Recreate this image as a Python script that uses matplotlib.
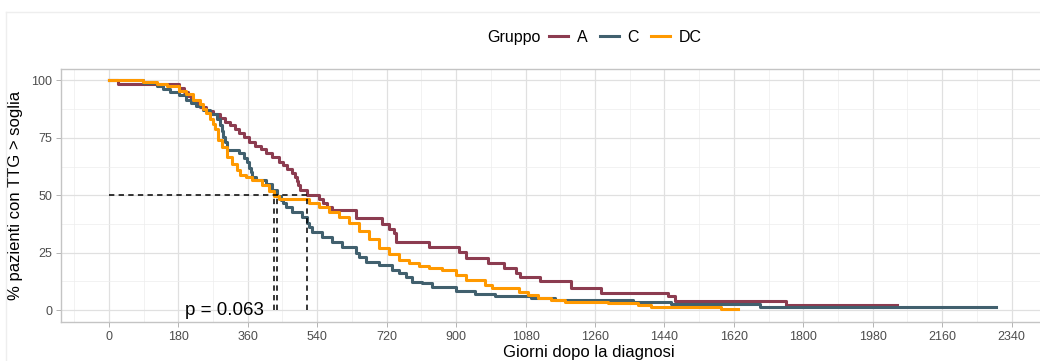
import matplotlib.pyplot as plt
from matplotlib.lines import Line2D

# curve di Kaplan-Meier (giorni, % pazienti con TTG > soglia)
gruppi = ["A", "C", "DC"]
colori = ["#8C3C50", "#41606E", "#FF9900"]

giorni_A = [0, 23, 183, 194, 204, 214, 225, 235, 253, 269, 287, 302, 315, 328, 338,
            351, 364, 380, 395, 408, 424, 442, 452, 462, 475, 483, 488, 491, 496, 514,
            545, 555, 566, 579, 641, 708, 726, 738, 744, 829, 907, 925, 984, 1023, 1056,
            1067, 1118, 1198, 1276, 1449, 1467, 1754, 2043]
surv_A = [100, 98.3, 96.6, 95.0, 93.3, 91.6, 90.0, 88.5, 86.8, 85.3, 83.7, 82.0, 80.4, 78.7, 77.0,
          75.3, 73.3, 71.6, 70.0, 68.4, 66.7, 64.7, 63.0, 61.3, 59.6, 57.8, 56.0, 54.3, 52.4, 50.0,
          48.3, 46.6, 45.0, 43.5, 40.0, 37.5, 35.5, 33.5, 29.8, 27.5, 25.2, 22.6, 20.4, 18.5, 16.3,
          14.5, 12.5, 9.8, 7.5, 5.9, 4.0, 2.2, 2.2]

giorni_C = [0, 88, 124, 139, 158, 183, 201, 214, 227, 243, 261, 279, 287, 292, 297,
            300, 305, 307, 338, 351, 359, 364, 369, 372, 382, 408, 424, 436, 446, 452,
            460, 475, 501, 514, 519, 527, 553, 579, 604, 641, 648, 666, 700, 734, 752,
            770, 785, 811, 837, 899, 950, 1002, 1093, 1157, 1359, 1457, 1689, 2299]
surv_C = [100, 98.8, 97.6, 96.4, 95.0, 93.6, 91.5, 90.0, 89.0, 87.3, 85.3, 83.0, 80.5, 78.0, 75.5,
          73.0, 71.0, 69.6, 68.5, 66.2, 64.5, 62.0, 60.0, 58.0, 56.5, 55.0, 52.5, 49.5, 48.0, 46.8,
          45.0, 42.6, 40.4, 37.8, 36.0, 34.0, 31.7, 29.6, 27.4, 25.0, 23.2, 21.0, 19.6, 17.4, 16.0,
          14.2, 12.4, 11.6, 10.0, 8.2, 7.0, 5.9, 5.2, 4.3, 3.5, 2.5, 1.2, 1.2]

giorni_DC = [0, 88, 124, 150, 183, 201, 217, 235, 243, 253, 261, 269, 274, 282, 294,
             307, 320, 331, 341, 356, 372, 398, 416, 429, 442, 519, 545, 571, 597, 622,
             648, 674, 700, 726, 752, 777, 803, 829, 863, 901, 925, 976, 992, 1062, 1087,
             1113, 1147, 1183, 1294, 1371, 1405, 1586, 1630]
surv_DC = [100, 99.3, 98.3, 97.6, 95.6, 94.0, 91.7, 89.6, 87.4, 86.0, 83.0, 81.0, 78.7, 74.0, 71.0,
           66.5, 63.5, 61.0, 59.0, 58.0, 56.5, 54.3, 52.0, 49.5, 48.5, 46.5, 44.8, 42.6, 40.4, 37.8,
           34.6, 30.8, 27.2, 24.2, 21.9, 20.4, 19.0, 18.3, 17.4, 15.2, 13.2, 10.8, 9.8, 7.8, 6.5,
           5.3, 4.4, 3.6, 3.0, 2.2, 1.3, 0.6, 0.6]

x_ticks = list(range(0, 2341, 180))
y_ticks = [0, 25, 50, 75, 100]
p_value = "p = 0.063"


def mediana(giorni, surv):
    for g, s in zip(giorni, surv):
        if s <= 50:
            return g
    return None


plt.rcParams['font.family'] = ['Liberation Sans', 'DejaVu Sans']

fig = plt.figure(figsize=(10.4, 3.61), dpi=100)
# il pannello originale e' tagliato a destra: l'asse va oltre il bordo della figura
ax = fig.add_axes([0.0587, 0.1094, 1.0141, 0.6995])

curve = [(giorni_A, surv_A), (giorni_C, surv_C), (giorni_DC, surv_DC)]
for (g, s), col in zip(curve, colori):
    ax.step(g, s, where='post', color=col, lw=2.2, zorder=3)

# linee della mediana
mediane = [mediana(g, s) for g, s in curve]
ax.plot([0, max(mediane)], [50, 50], color='black', lw=1.1, dashes=(3.5, 2.8), zorder=4)
for m in mediane:
    ax.plot([m, m], [0, 50], color='black', lw=1.1, dashes=(3.5, 2.8), zorder=4)

ax.text(300, 0, p_value, fontsize=13.5, ha='center', va='center', zorder=5)

ax.set_xlim(-124, 2600)
ax.set_ylim(-5, 105)
ax.set_xticks(x_ticks)
ax.set_yticks(y_ticks)
ax.set_xticks([t + 90 for t in [-180] + x_ticks + [2520]], minor=True)
ax.set_yticks([12.5, 37.5, 62.5, 87.5], minor=True)
ax.grid(which='major', color='#E0E0E0', lw=0.9)
ax.grid(which='minor', color='#EDEDED', lw=0.5)
ax.set_axisbelow(True)
ax.tick_params(which='major', length=3.5, width=0.7, color='#B3B3B3',
               labelcolor='#4D4D4D', labelsize=9, pad=3)
ax.tick_params(which='minor', length=0)
for sp in ax.spines.values():
    sp.set_color('#C4C4C4')
    sp.set_linewidth(1.0)

ax.set_xlabel("Giorni dopo la diagnosi", fontsize=12, labelpad=2)
ax.set_ylabel("% pazienti con TTG > soglia", fontsize=12, labelpad=6)

# legenda orizzontale in alto
fig.text(487 / 1040, 0.8975, "Gruppo", fontsize=11.5, ha='left', va='center')
handles = [Line2D([], [], color=c, lw=2.2) for c in colori]
fig.legend(handles, gruppi, ncol=3, loc='center left', bbox_to_anchor=(549 / 1040, 0.8975),
           frameon=False, fontsize=11.5, handlelength=1.2, handletextpad=0.55,
           columnspacing=0.75, borderpad=0, borderaxespad=0)

# bordo chiaro esterno dello screenshot
fig.add_artist(Line2D([0.0058, 0.0058], [0, 0.9668], color='#EEEEEE', lw=1))
fig.add_artist(Line2D([0.0058, 1], [0.9668, 0.9668], color='#EEEEEE', lw=1))

plt.savefig("out.png", dpi=100)
